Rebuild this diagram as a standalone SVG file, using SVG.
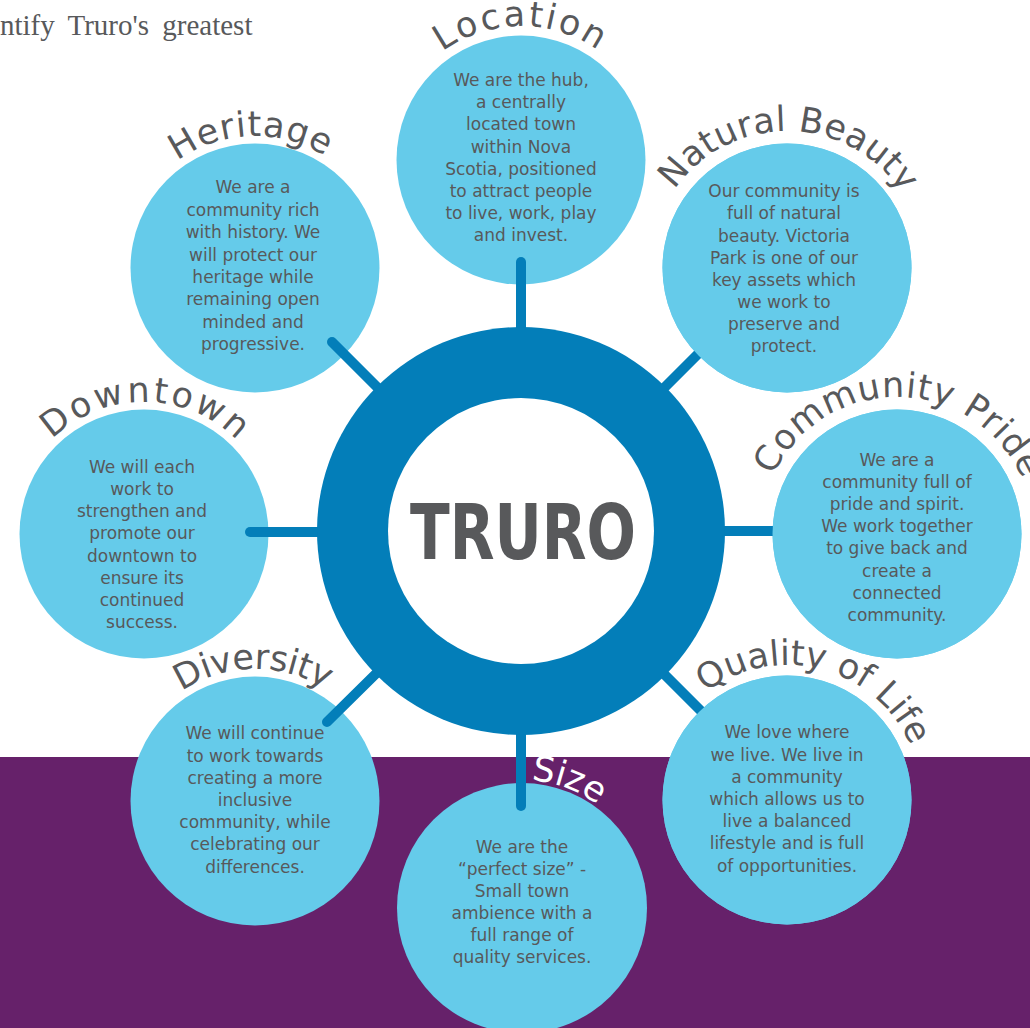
<svg xmlns="http://www.w3.org/2000/svg" width="1030" height="1028" viewBox="0 0 1030 1028">
<style>
.bg{fill:#ffffff}
.band{fill:#66216a}
.sat{fill:#65cbea}
.ring{fill:#037eb9}
.hole{fill:#ffffff}
.conn{stroke:#037eb9;stroke-width:10;stroke-linecap:round;fill:none}
.body{font-family:"DejaVu Sans","Liberation Sans",sans-serif;font-size:17px;fill:#58595b;text-anchor:middle}
.title{font-family:"DejaVu Sans","Liberation Sans",sans-serif;font-size:35px;fill:#58595b;text-anchor:middle}
.white{fill:#ffffff}
.center{font-family:"DejaVu Sans","Liberation Sans",sans-serif;font-weight:bold;font-size:76px;fill:#58595b;text-anchor:middle}
.head{font-family:"Liberation Serif",serif;font-size:29px;fill:#58595b;word-spacing:6px}
</style>
<defs>
<path id="pLocation" d="M387,160 A134,134 0 0 1 655,160"/>
<path id="pHeritage" d="M123,268 A132,132 0 0 1 387,268"/>
<path id="pNatural" d="M650,268 A137,137 0 0 1 924,268"/>
<path id="pDowntown" d="M12,534 A132,132 0 0 1 276,534"/>
<path id="pPride" d="M760,534 A137,137 0 0 1 1034,534"/>
<path id="pDiversity" d="M123,801 A132,132 0 0 1 387,801"/>
<path id="pQuality" d="M656.9,763.9 A135,135 0 0 1 917.1,836.1"/>
<path id="pSize" d="M403.3,860.1 A128,128 0 0 1 640.7,955.9"/>
</defs>
<rect class="bg" x="0" y="0" width="1030" height="1028"/>
<rect class="band" x="0" y="757" width="1030" height="271"/>
<text class="head" x="0" y="35">ntify Truro's greatest</text>

<g id="node-natural-beauty-circle"><circle class="sat" cx="787" cy="268" r="124.5"/></g>
<g id="node-community-pride-circle"><circle class="sat" cx="897" cy="534" r="124.5"/></g>
<g id="node-quality-of-life-circle"><circle class="sat" cx="787" cy="800" r="124.5"/></g>

<g id="connectors">
<line class="conn" x1="640" y1="412" x2="720" y2="332"/>
<line class="conn" x1="710" y1="531" x2="820" y2="531"/>
<line class="conn" x1="640" y1="650" x2="720" y2="730"/>
</g>

<g id="node-natural-beauty-overlay"><circle class="sat" cx="787" cy="268" r="124.5"/></g>
<g id="node-community-pride-overlay"><circle class="sat" cx="897" cy="534" r="124.5"/></g>
<g id="node-quality-of-life-overlay"><circle class="sat" cx="787" cy="800" r="124.5"/></g>

<g id="node-location"><circle class="sat" cx="521" cy="160" r="124.5"/></g>
<g id="node-heritage"><circle class="sat" cx="255" cy="268" r="124.5"/></g>
<g id="node-downtown"><circle class="sat" cx="144" cy="534" r="124.5"/></g>
<g id="node-diversity"><circle class="sat" cx="255" cy="801" r="124.5"/></g>
<g id="node-size"><circle class="sat" cx="522" cy="908" r="125"/></g>

<g id="connectors-front">
<line class="conn" x1="521" y1="262" x2="521" y2="340"/>
<line class="conn" x1="332" y1="342" x2="400" y2="410"/>
<line class="conn" x1="250" y1="532" x2="330" y2="532"/>
<line class="conn" x1="327" y1="722" x2="400" y2="650"/>
<line class="conn" x1="521" y1="806" x2="521" y2="720"/>
</g>

<g id="node-truro">
<circle class="ring" cx="521" cy="531" r="204"/>
<circle class="hole" cx="521" cy="531" r="133"/>
<text class="center" x="523" y="559" textLength="226" lengthAdjust="spacingAndGlyphs">TRURO</text>
</g>

<g id="text-location">
<text class="title" letter-spacing="2.5"><textPath href="#pLocation" startOffset="50%">Location</textPath></text>
<text class="body" x="521" y="86"><tspan x="521">We are the hub,</tspan><tspan x="521" dy="22.2">a centrally</tspan><tspan x="521" dy="22.2">located town</tspan><tspan x="521" dy="22.2">within Nova</tspan><tspan x="521" dy="22.2">Scotia, positioned</tspan><tspan x="521" dy="22.2">to attract people</tspan><tspan x="521" dy="22.2">to live, work, play</tspan><tspan x="521" dy="22.2">and invest.</tspan></text>
</g>
<g id="text-heritage">
<text class="title" letter-spacing="0.8"><textPath href="#pHeritage" startOffset="49%">Heritage</textPath></text>
<text class="body" y="193.3"><tspan x="253">We are a</tspan><tspan x="253" dy="22.4">community rich</tspan><tspan x="253" dy="22.4">with history. We</tspan><tspan x="253" dy="22.4">will protect our</tspan><tspan x="253" dy="22.4">heritage while</tspan><tspan x="253" dy="22.4">remaining open</tspan><tspan x="253" dy="22.4">minded and</tspan><tspan x="253" dy="22.4">progressive.</tspan></text>
</g>
<g id="text-natural-beauty">
<text class="title" letter-spacing="0.3"><textPath href="#pNatural" startOffset="50.5%">Natural Beauty</textPath></text>
<text class="body" y="197.3"><tspan x="784">Our community is</tspan><tspan x="784" dy="22.1">full of natural</tspan><tspan x="784" dy="22.1">beauty. Victoria</tspan><tspan x="784" dy="22.1">Park is one of our</tspan><tspan x="784" dy="22.1">key assets which</tspan><tspan x="784" dy="22.1">we work to</tspan><tspan x="784" dy="22.1">preserve and</tspan><tspan x="784" dy="22.1">protect.</tspan></text>
</g>
<g id="text-downtown">
<text class="title" letter-spacing="2.8"><textPath href="#pDowntown" startOffset="50.5%">Downtown</textPath></text>
<text class="body" y="472.7"><tspan x="142">We will each</tspan><tspan x="142" dy="22.2">work to</tspan><tspan x="142" dy="22.2">strengthen and</tspan><tspan x="142" dy="22.2">promote our</tspan><tspan x="142" dy="22.2">downtown to</tspan><tspan x="142" dy="22.2">ensure its</tspan><tspan x="142" dy="22.2">continued</tspan><tspan x="142" dy="22.2">success.</tspan></text>
</g>
<g id="text-community-pride">
<text class="title" letter-spacing="0.8"><textPath href="#pPride" startOffset="50.5%">Community Pride</textPath></text>
<text class="body" y="466"><tspan x="897">We are a</tspan><tspan x="897" dy="22.1">community full of</tspan><tspan x="897" dy="22.1">pride and spirit.</tspan><tspan x="897" dy="22.1">We work together</tspan><tspan x="897" dy="22.1">to give back and</tspan><tspan x="897" dy="22.1">create a</tspan><tspan x="897" dy="22.1">connected</tspan><tspan x="897" dy="22.1">community.</tspan></text>
</g>
<g id="text-diversity">
<text class="title" font-size="34" letter-spacing="-0.5"><textPath href="#pDiversity" startOffset="49.5%">Diversity</textPath></text>
<text class="body" y="739.3"><tspan x="255">We will continue</tspan><tspan x="255" dy="22.2">to work towards</tspan><tspan x="255" dy="22.2">creating a more</tspan><tspan x="255" dy="22.2">inclusive</tspan><tspan x="255" dy="22.2">community, while</tspan><tspan x="255" dy="22.2">celebrating our</tspan><tspan x="255" dy="22.2">differences.</tspan></text>
</g>
<g id="text-quality-of-life">
<text class="title" letter-spacing="0"><textPath href="#pQuality" startOffset="49.5%">Quality of Life</textPath></text>
<text class="body" y="738.3"><tspan x="787">We love where</tspan><tspan x="787" dy="22.2">we live. We live in</tspan><tspan x="787" dy="22.2">a community</tspan><tspan x="787" dy="22.2">which allows us to</tspan><tspan x="787" dy="22.2">live a balanced</tspan><tspan x="787" dy="22.2">lifestyle and is full</tspan><tspan x="787" dy="22.2">of opportunities.</tspan></text>
</g>
<g id="text-size">
<text class="title white" font-size="32"><textPath href="#pSize" startOffset="49%">Size</textPath></text>
<text class="body" y="852.7"><tspan x="522">We are the</tspan><tspan x="522" dy="22.1">“perfect size” -</tspan><tspan x="522" dy="22.1">Small town</tspan><tspan x="522" dy="22.1">ambience with a</tspan><tspan x="522" dy="22.1">full range of</tspan><tspan x="522" dy="22.1">quality services.</tspan></text>
</g>
</svg>
